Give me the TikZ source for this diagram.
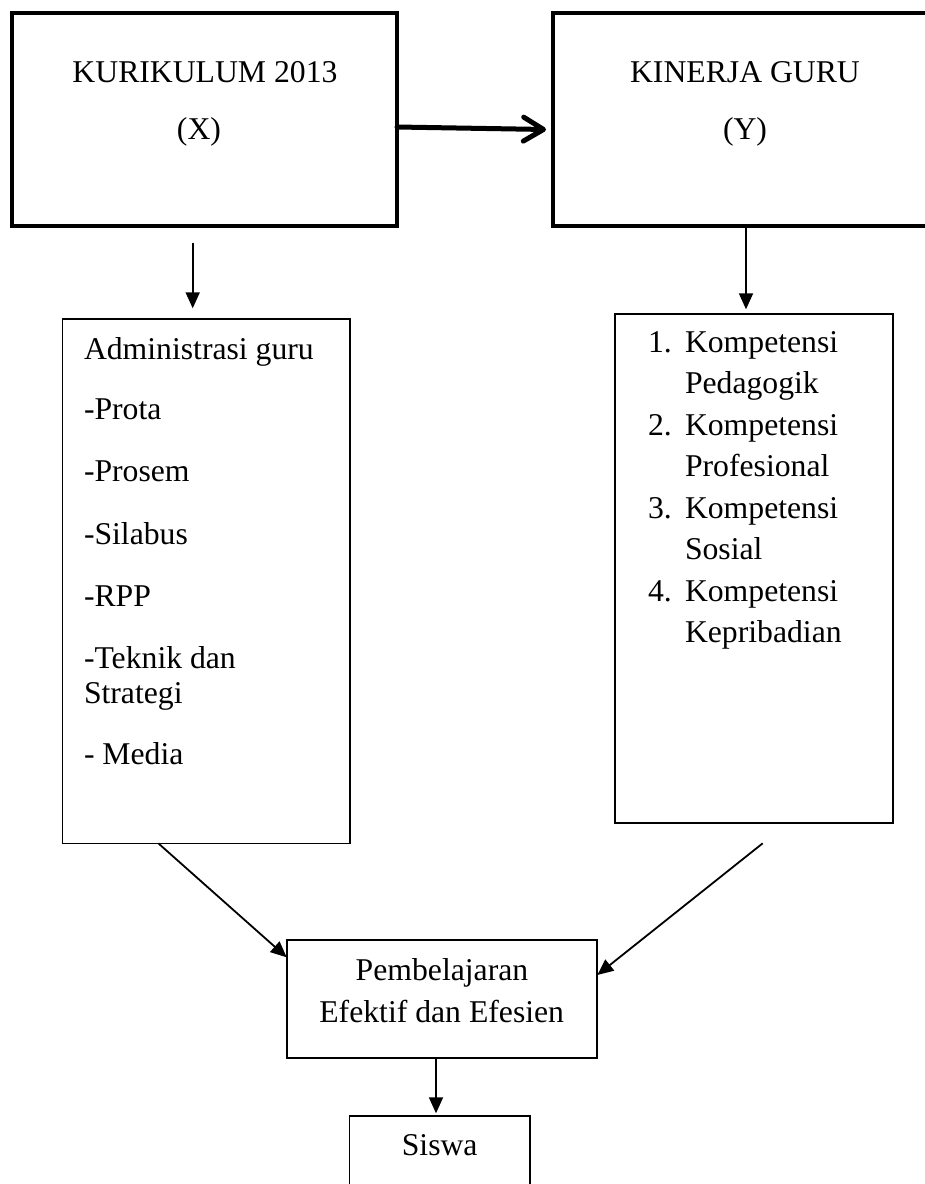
\documentclass[tikz,border=0pt]{standalone}
\usepackage{fontspec}
\newfontfamily\bodyfont{Liberation Serif}
\usetikzlibrary{arrows.meta}
\tikzset{
  thickbox/.style={draw, line width=4pt, inner sep=0pt, outer sep=0pt},
  thinbox/.style={draw, line width=1.6pt, inner sep=0pt, outer sep=0pt},
  conn/.style={line width=1.8pt, -{Triangle[length=16pt,width=14pt]}},
  bigconn/.style={line width=5pt, line cap=round, -{Straight Barb[length=20pt,width=24pt,line width=5pt,round]}},
  lbl/.style={inner sep=0pt, outer sep=0pt, font=\bodyfont\fontsize{31.7pt}{36pt}\selectfont},
}
\begin{document}
\begin{tikzpicture}[x=1pt,y=-1pt]
\path[use as bounding box, clip] (0,0) rectangle (925,1184);
\fill[white] (0,0) rectangle (925,1184);

% boxes
\node[thickbox, minimum width=385pt, minimum height=213pt] (kur) at (204.5,119.5) {};
\node[thickbox, minimum width=386pt, minimum height=213pt] (kin) at (746,119.5) {};
\node[thinbox, minimum width=287.3pt, minimum height=524.3pt] (adm) at (206.3,581.2) {};
\node[thinbox, minimum width=278pt, minimum height=508.7pt] (komp) at (754,568.4) {};
\node[thinbox, minimum width=310pt, minimum height=117.7pt] (pemb) at (441.7,998.9) {};
\node[thinbox, minimum width=180.7pt, minimum height=124pt] (siswa) at (439.7,1178) {};

% texts in top boxes
\node[lbl, anchor=base] (t1) at (205,82) {KURIKULUM 2013};
\node[lbl, anchor=base] (t2) at (199,139.5) {(X)};
\node[lbl, anchor=base] (t3) at (745,82) {KINERJA GURU};
\node[lbl, anchor=base] (t4) at (745,139.5) {(Y)};

% left list
\node[lbl, anchor=base west] (a1) at (84,359.5) {Administrasi guru};
\node[lbl, anchor=base west] (a2) at (84,419.4) {-Prota};
\node[lbl, anchor=base west] (a3) at (84,481.9) {-Prosem};
\node[lbl, anchor=base west] (a4) at (84,544.1) {-Silabus};
\node[lbl, anchor=base west] (a5) at (84,606.6) {-RPP};
\node[lbl, anchor=base west] (a6) at (84,668.4) {-Teknik dan};
\node[lbl, anchor=base west] (a7) at (84,703.2) {Strategi};
\node[lbl, anchor=base west] (a8) at (84,764.9) {- Media};

% right list
\node[lbl, anchor=base west] (n1) at (648,352.2) {1.};
\node[lbl, anchor=base west] (k1) at (685,352.2) {Kompetensi};
\node[lbl, anchor=base west] (k1b) at (685,393.6) {Pedagogik};
\node[lbl, anchor=base west] (n2) at (648,435.3) {2.};
\node[lbl, anchor=base west] (k2) at (685,435.3) {Kompetensi};
\node[lbl, anchor=base west] (k2b) at (685,476.6) {Profesional};
\node[lbl, anchor=base west] (n3) at (648,518.3) {3.};
\node[lbl, anchor=base west] (k3) at (685,518.3) {Kompetensi};
\node[lbl, anchor=base west] (k3b) at (685,559.7) {Sosial};
\node[lbl, anchor=base west] (n4) at (648,601.4) {4.};
\node[lbl, anchor=base west] (k4) at (685,601.4) {Kompetensi};
\node[lbl, anchor=base west] (k4b) at (685,642.7) {Kepribadian};

% bottom texts
\node[lbl, anchor=base] (p1) at (442,980) {Pembelajaran};
\node[lbl, anchor=base] (p2) at (441.7,1022.3) {Efektif dan Efesien};
\node[lbl, anchor=base] (s1) at (439.7,1155.7) {Siswa};

% connector end points
\coordinate (kurS) at (192.7,242.7);
\coordinate (admN) at (192.7,308.3);
\coordinate (kinS) at (746,228);
\coordinate (kompN) at (746,309.3);
\coordinate (kurE) at (397,127);
\coordinate (kinW) at (546,129.5);
\coordinate (admS) at (158.3,843.3);
\coordinate (pembNW) at (286.7,957.3);
\coordinate (kompS) at (762.7,843.3);
\coordinate (pembE) at (597.3,975);
\coordinate (pembS) at (436,1057.7);
\coordinate (siswaN) at (436,1113.3);

% connectors
\draw[bigconn] (kurE) -- (kinW);
\draw[conn] (kurS) -- (admN);
\draw[conn] (kinS) -- (kompN);
\draw[conn] (admS) -- (pembNW);
\draw[conn] (kompS) -- (pembE);
\draw[conn] (pembS) -- (siswaN);
\end{tikzpicture}
\end{document}
